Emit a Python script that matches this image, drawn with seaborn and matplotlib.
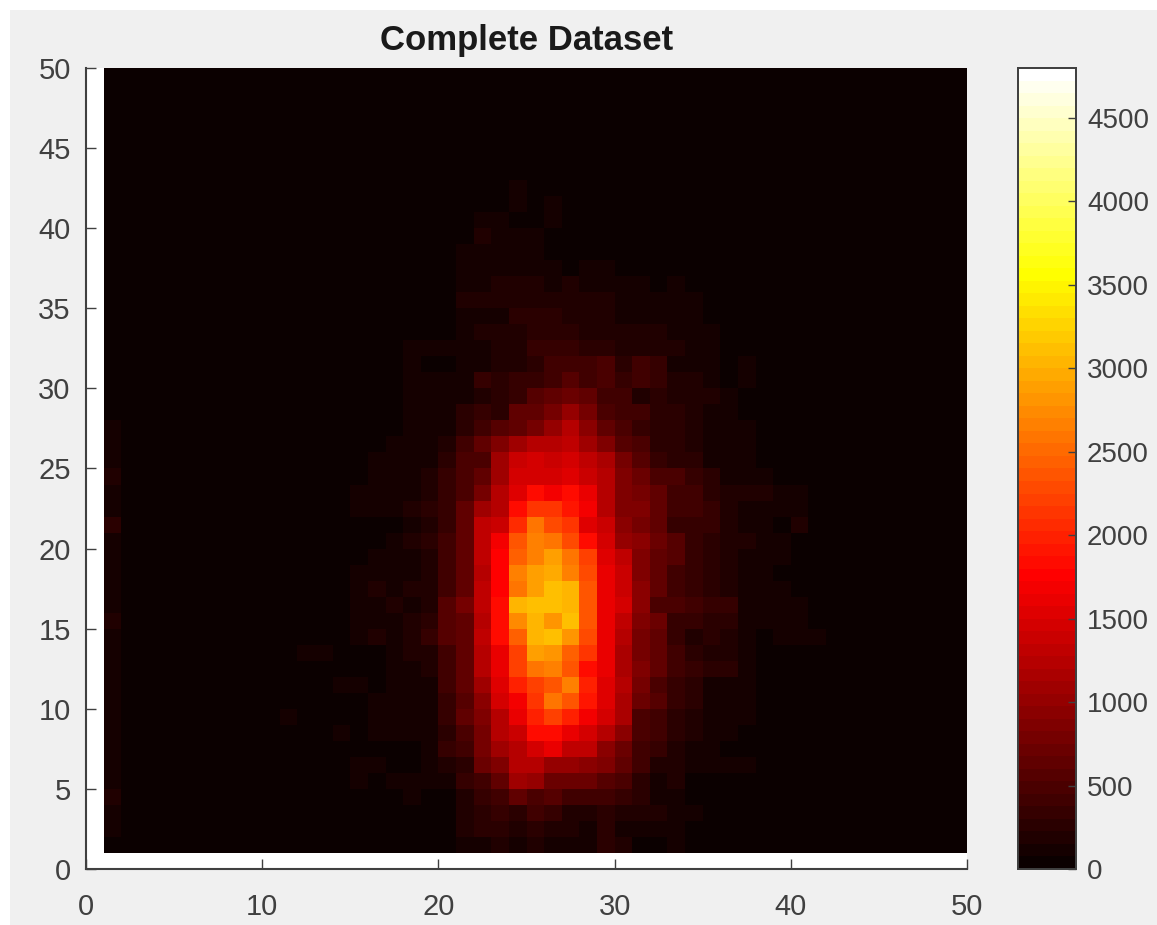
import numpy as np
import matplotlib
matplotlib.use('Agg')
import matplotlib.pyplot as plt
from matplotlib.patches import Rectangle
import seaborn as sns

# values, one list per row, starting at column 11
first_col = 11
r01 = [0,0,0,0,0,0,0,0,0, 30,110,110,160,140,160,110,130,140,280,160, 60,30,100]
r02 = [0,0,0,0,0,0,0,0,0, 60,160,250,250,210,250,210,180,110,250,110, 140,110,110,70]
r03 = [0,0,0,0,0,0,0,0,70, 70,210,250,320,280,390,350,210,180,280,210, 180,180,100,100]
r04 = [0,0,0,0,0,0,0,100,70, 50,180,350,390,600,490,530,390,390,420,320, 250,140,110,70]
r05 = [0,0,0,0,100,60,80,80,80, 110,350,390,600,1060,990,740,740,700,560,460, 280,140,160,70,60]
r06 = [0,0,0,0,100,100,70,70,100, 180,280,700,880,1230,1230,990,1020,950,850,640, 390,210,180,100,100,100,100]
r07 = [0,0,0,0,0,0,70,60,100, 320,420,780,1060,1270,1450,1590,1340,1340,920,700, 390,320,180,100,100,60]
r08 = [0,0,0,140,0,80,80,100,140, 250,490,780,1200,1410,1800,1830,1620,1450,1230,920, 490,390,250,180,100,100,60]
r09 = [100,0,0,0,0,110,110,110,140, 350,600,880,1270,1620,2000,2220,2000,1660,1450,1130, 460,420,280,210,100,100,100,60]
r10 = [0,0,0,0,60,110,110,100,110, 350,560,920,1450,1690,2120,2580,2360,1940,1550,1160, 700,560,350,280,140,100,100,60]
r11 = [0,0,0,100,100,70,80,110,140, 390,600,1090,1550,2000,2220,2330,2650,2010,1550,1200, 770,490,350,250,140,100,80]
r12 = [0,0,0,0,0,70,110,140,210, 390,640,1200,1590,2220,2620,2680,2330,1870,1590,1160, 840,600,390,320,280,250,100,60]
r13 = [0,110,110,0,70,70,100,180,210, 390,640,1200,1590,2220,2860,2790,2430,2150,1590,1130, 810,600,420,280,210,180,100,70]
r14 = [0,0,0,0,80,150,140,180,350, 530,600,1310,1800,2400,3040,3080,2790,2290,1590,1200, 810,600,320,210,250,210,100,70,100,120,120]
r15 = [0,0,0,0,80,100,110,180,250, 530,640,1200,1850,2750,3040,2830,3140,2330,1590,1340, 880,740,350,350,280,280,100,100,100,100]
r16 = [0,0,0,0,80,110,180,140,210, 560,780,1340,1830,3000,3140,3110,3000,2360,1620,1450, 950,490,450,420,320,320,110,100,110,110]
r17 = [0,0,0,0,80,150,110,210,210, 390,600,1310,1730,2580,2900,3140,3040,2330,1590,1410, 950,640,390,320,280,210,140,100,130,60]
r18 = [0,0,0,0,100,100,100,110,210, 390,600,1270,1730,2650,2860,2930,2680,2290,1590,1410, 880,640,390,320,280,210,140,100,30]
r19 = [0,0,0,0,0,120,100,140,210, 390,600,1310,1730,2440,2650,2860,2610,2220,1520,1340, 880,670,530,350,280,210,140,100,120,60]
r20 = [0,0,0,0,60,70,140,180,280, 390,640,1340,1660,2360,2680,2580,2300,1800,1450,990, 920,740,530,350,280,210,180,80,80]
r21 = [0,0,0,0,0,70,70,100,180, 350,640,1340,1410,2080,2580,2300,2150,1550,1410,920, 780,640,350,320,320,180,140,80,30,180]
r22 = [0,0,0,0,100,100,100,180,280, 320,600,1060,1200,1800,2150,2150,1900,1700,1240,850, 850,600,420,390,350,180,100,80,80,80]
r23 = [0,0,0,0,100,100,100,140,180, 320,500,780,1200,1520,1800,1690,1830,1590,1270,880, 780,600,390,390,280,180,210,180,100,100]
r24 = [0,0,0,0,0,80,100,110,180, 320,490,640,1050,1450,1480,1450,1520,1400,1230,850, 700,490,490,320,280,140,100,80]
r25 = [0,0,0,0,0,100,100,100,140, 280,490,490,1050,1400,1450,1380,1480,1340,1130,780, 530,350,280,250,140,140,100]
r26 = [0,0,0,0,0,70,100,100,100, 200,420,640,850,1050,1200,1230,1340,1050,850,560, 490,280,280,210,140,140,100]
r27 = [0,0,0,0,0,0,70,80,80, 140,250,390,530,640,810,1020,1200,920,640,490, 320,280,250,210,140,130,80]
r28 = [0,0,0,0,0,0,0,80,80, 80,250,320,280,600,640,780,990,780,500,390, 390,250,250,210,140,140,60]
r29 = [0,0,0,0,0,0,0,80,80, 80,140,210,250,350,530,640,740,640,420,420, 210,250,180,180,180,100,60]
r30 = [0,0,0,0,0,0,0,80,80, 80,130,320,250,320,320,420,560,390,460,350, 390,320,180,180,130,60,130]
r31 = [0,0,0,0,0,0,0,80,10, 70,140,140,210,210,250,420,420,420,460,280, 390,320,140,140,140,70,130]
r32 = [0,0,0,0,0,0,0,80,80, 80,130,130,200,200,320,320,320,250,250,200, 200,200,150,100,100]
r33 = [0,0,0,0,0,0,0,0,70, 70,80,150,150,150,270,270,270,150,150,200, 200,200,100,100,100]
r34 = [0,0,0,0,0,0,0,0,0, 0,100,100,130,270,270,270,150,150,180,100, 100,100,100,100]
r35 = [0,0,0,0,0,0,0,0,0, 0,200,200,200,150,150,150,150,150,150,100, 100,100,100,100]
r36 = [0,0,0,0,0,0,0,0,0, 0,100,100,150,150,150,100,150,100,100,100, 100,60,130]
r37 = [0,0,0,0,0,0,0,0,0, 0,100,100,100,100,100,100,0,100,100]
r38 = [0,0,0,0,0,0,0,0,0, 0,100,100,100,100,100]
r39 = [0,0,0,0,0,0,0,0,0, 0,0,200,100,100,100]
r40 = [0,0,0,0,0,0,0,0,0, 0,0,110,110,40,40,130]
r41 = [0,0,0,0,0,0,0,0,0, 0,0,0,0,110,0,130]
r42 = [0,0,0,0,0,0,0,0,0, 0,0,0,0,130]
rows = [r01, r02, r03, r04, r05, r06, r07, r08, r09, r10, r11, r12, r13, r14,
        r15, r16, r17, r18, r19, r20, r21, r22, r23, r24, r25, r26, r27, r28,
        r29, r30, r31, r32, r33, r34, r35, r36, r37, r38, r39, r40, r41, r42]

# the faint stripe along the left edge, rows 1 to 27
col_1 = [0, 100, 100, 160, 90, 90, 90, 90, 90, 90, 90, 90, 90, 90,
         160, 90, 90, 90, 90, 90, 280, 90, 140, 160, 120, 100, 100]

x_ticks = [0, 10, 20, 30, 40, 50]
y_ticks = [0, 5, 10, 15, 20, 25, 30, 35, 40, 45, 50]
bar_ticks = [0, 500, 1000, 1500, 2000, 2500, 3000, 3500, 4000, 4500]

# row and column 0 stay empty, the image starts at 1
grid = np.zeros((50, 50))
grid[0, :] = np.nan
grid[:, 0] = np.nan
for i, row in enumerate(rows):
    grid[i + 1, first_col:first_col + len(row)] = row
grid[1:len(col_1) + 1, 1] = col_1

W, H = 1157, 925
fig = plt.figure(figsize=(W / 100, H / 100), dpi=100, facecolor='white')
fig.add_artist(Rectangle((10 / W, 0), 1 - 10 / W, 1 - 10 / H, transform=fig.transFigure,
                         facecolor='#f0f0f0', edgecolor='none', zorder=-1))
plt.rcParams['font.family'] = ['Liberation Sans', 'DejaVu Sans']

ax = fig.add_axes([86 / W, 1 - 869 / H, 881 / W, 801 / H], facecolor='white')
cax = fig.add_axes([1018 / W, 1 - 869 / H, 58 / W, 801 / H])

sns.heatmap(grid, ax=ax, cbar_ax=cax, cmap=plt.get_cmap('hot', 64), vmin=0, vmax=4800,
            xticklabels=False, yticklabels=False, square=False, linewidths=0,
            cbar_kws={'ticks': bar_ticks})
ax.invert_yaxis()

grey = '#404040'
ax.set_xticks(x_ticks, labels=[str(v) for v in x_ticks])
ax.set_yticks(y_ticks, labels=[str(v) for v in y_ticks])
ax.tick_params(axis='x', direction='in', length=7, width=1, color=grey, labelcolor=grey,
               labelsize=21, pad=17, bottom=True)
ax.tick_params(axis='y', direction='in', length=7, width=1, color=grey, labelcolor=grey,
               labelsize=21, pad=11, left=True)
plt.setp(ax.get_xticklabels(), rotation=0)
plt.setp(ax.get_yticklabels(), rotation=0)
for side in ['left', 'bottom']:
    ax.spines[side].set_visible(True)
    ax.spines[side].set_color(grey)
    ax.spines[side].set_linewidth(1.5)
ax.spines['top'].set_visible(False)
ax.spines['right'].set_visible(False)
ax.set_title('Complete Dataset', fontsize=25, fontweight='bold', color='#1a1a1a', pad=13)

cax.tick_params(direction='in', length=6, width=1, color=grey, labelcolor=grey,
                labelsize=20, pad=8, right=True)
for spine in cax.spines.values():
    spine.set_visible(True)
    spine.set_color(grey)
    spine.set_linewidth(1.3)

fig.savefig('out.png', dpi=100, facecolor=fig.get_facecolor())
